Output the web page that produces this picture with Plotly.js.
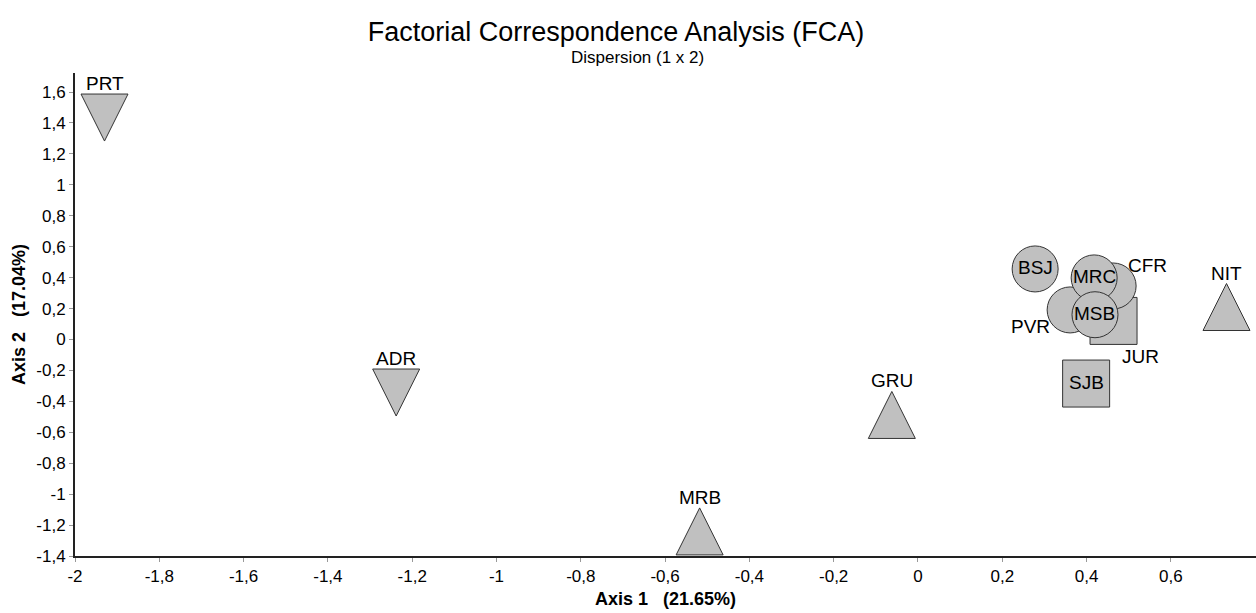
<!DOCTYPE html>
<html>
<head>
<meta charset="utf-8">
<script src="https://cdn.plot.ly/plotly-3.0.1.min.js"></script>
<style>html,body{margin:0;padding:0;background:#fff;}#chart{width:1256px;height:613px;}</style>
</head>
<body>
<div id="chart"></div>
<script>
// ---- data ----
const triDownNames = ['PRT', 'ADR'];
const triDownX = [-1.930, -1.238];
const triDownY = [1.435, -0.343];
const triDownLabelPos = ['top', 'top'];

const triUpNames = ['GRU', 'MRB', 'NIT'];
const triUpX = [-0.062, -0.518, 0.732];
const triUpY = [-0.488, -1.241, 0.210];
const triUpLabelPos = ['top', 'top', 'top'];

const squareNames = ['JUR', 'SJB'];
const squareX = [0.464, 0.399];
const squareY = [0.120, -0.285];
const squareLabelPos = ['lowerright', 'inside'];

const circleNames = ['PVR', 'CFR', 'BSJ', 'MRC', 'MSB'];
const circleX = [0.361, 0.463, 0.278, 0.418, 0.420];
const circleY = [0.191, 0.346, 0.456, 0.398, 0.160];
const circleLabelPos = ['lowerleft', 'upperright', 'inside', 'inside', 'inside'];

const xTickVals = [-2, -1.8, -1.6, -1.4, -1.2, -1, -0.8, -0.6, -0.4, -0.2, 0, 0.2, 0.4, 0.6];
const xTickText = ['-2', '-1,8', '-1,6', '-1,4', '-1,2', '-1', '-0,8', '-0,6', '-0,4', '-0,2', '0', '0,2', '0,4', '0,6'];
const yTickVals = [-1.4, -1.2, -1, -0.8, -0.6, -0.4, -0.2, 0, 0.2, 0.4, 0.6, 0.8, 1, 1.2, 1.4, 1.6];
const yTickText = ['-1,4', '-1,2', '-1', '-0,8', '-0,6', '-0,4', '-0,2', '0', '0,2', '0,4', '0,6', '0,8', '1', '1,2', '1,4', '1,6'];

const titleText = 'Factorial Correspondence Analysis (FCA)';
const subtitleText = 'Dispersion (1 x 2)';
const xTitle = 'Axis 1\u00a0\u00a0\u00a0(21.65%)';
const yTitle = 'Axis 2\u00a0\u00a0\u00a0(17.04%)';

// ---- style ----
const FILL = '#c0c0c0';
const EDGE = '#333333';
const FONT = 'Liberation Sans, Arial, sans-serif';
const HALF = 23.5; // triangle half size in px

const labelOffsets = {
  top: [0, 34],
  inside: [0, 1],
  upperright: [34, 20],
  lowerleft: [-40, -17],
  lowerright: [27, -36]
};

function triShapes(xs, ys, up) {
  const h = HALF;
  const path = up
    ? `M ${-h},${-h} L ${h},${-h} L 0,${h} Z`
    : `M ${-h},${h} L ${h},${h} L 0,${-h} Z`;
  return xs.map((x, i) => ({
    type: 'path', xref: 'x', yref: 'y',
    xsizemode: 'pixel', ysizemode: 'pixel',
    xanchor: x, yanchor: ys[i],
    path: path,
    fillcolor: FILL,
    line: {color: EDGE, width: 1},
    layer: 'above'
  }));
}

function labels(names, xs, ys, pos) {
  return names.map((n, i) => {
    const o = labelOffsets[pos[i]];
    return {
      x: xs[i], y: ys[i], xref: 'x', yref: 'y',
      text: n, showarrow: false,
      xanchor: 'center', yanchor: 'middle',
      xshift: o[0], yshift: o[1],
      font: {family: FONT, size: 19, color: '#000'}
    };
  });
}

const traces = [
  {
    type: 'scatter', mode: 'markers', name: 'squares',
    x: squareX, y: squareY, text: squareNames, hoverinfo: 'text',
    marker: {symbol: 'square', size: 47, color: FILL, line: {color: EDGE, width: 1}},
    showlegend: false
  },
  {
    type: 'scatter', mode: 'markers', name: 'circles',
    x: circleX, y: circleY, text: circleNames, hoverinfo: 'text',
    marker: {symbol: 'circle', size: 46, color: FILL, line: {color: EDGE, width: 1}},
    showlegend: false
  }
];

const shapes = [].concat(
  triShapes(triDownX, triDownY, false),
  triShapes(triUpX, triUpY, true)
);

const annotations = [].concat(
  labels(triDownNames, triDownX, triDownY, triDownLabelPos),
  labels(triUpNames, triUpX, triUpY, triUpLabelPos),
  labels(squareNames, squareX, squareY, squareLabelPos),
  labels(circleNames, circleX, circleY, circleLabelPos),
  [{
    xref: 'paper', yref: 'paper', x: (637 - 75) / 1181, y: 1, yshift: 16,
    xanchor: 'center', yanchor: 'middle', showarrow: false,
    text: subtitleText,
    font: {family: FONT, size: 17, color: '#000'}
  }]
);

const layout = {
  width: 1256, height: 613,
  margin: {l: 75, r: 0, t: 73, b: 57},
  paper_bgcolor: '#fff', plot_bgcolor: '#fff',
  showlegend: false,
  title: {
    text: titleText,
    x: 616 / 1256, xref: 'container', xanchor: 'center',
    y: 1 - 32 / 613, yref: 'container', yanchor: 'middle',
    font: {family: FONT, size: 27, color: '#000'}
  },
  xaxis: {
    range: [-2, 0.802],
    tickvals: xTickVals, ticktext: xTickText,
    ticks: 'outside', ticklen: 4, tickcolor: '#999', tickwidth: 1,
    showgrid: false, zeroline: false,
    showline: true, linecolor: '#222', linewidth: 2,
    tickfont: {family: FONT, size: 17, color: '#000'},
    title: {text: xTitle, standoff: 7, font: {family: FONT, size: 18, color: '#000', weight: 'bold'}}
  },
  yaxis: {
    range: [-1.4, 1.723],
    tickvals: yTickVals, ticktext: yTickText,
    ticks: 'outside', ticklen: 4, tickcolor: '#999', tickwidth: 1,
    showgrid: false, zeroline: false,
    showline: true, linecolor: '#222', linewidth: 2,
    tickfont: {family: FONT, size: 17, color: '#000'},
    title: {text: yTitle, standoff: 6, font: {family: FONT, size: 18, color: '#000', weight: 'bold'}}
  },
  shapes: shapes,
  annotations: annotations
};

Plotly.newPlot('chart', traces, layout, {displayModeBar: false, staticPlot: true});
</script>
</body>
</html>
